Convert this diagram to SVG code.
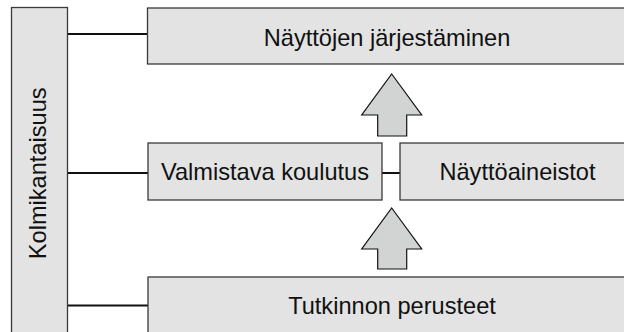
<svg xmlns="http://www.w3.org/2000/svg" width="624" height="332" viewBox="0 0 624 332">
<style>
.box{fill:#e2e3e2;stroke:#3a3a3a;stroke-width:1.3}
.lbl{font-family:"Liberation Sans",Arial,sans-serif;font-size:23.6px;fill:#111;text-anchor:middle}
.conn line{stroke:#111;stroke-width:2}
.arrow{fill:#d2d3d3;stroke:#111;stroke-width:1.2;stroke-linejoin:miter}
</style>
<rect width="624" height="332" fill="#fff"/>
<g class="conn">
<line x1="67" y1="34" x2="147" y2="34"/>
<line x1="67" y1="173" x2="148" y2="173"/>
<line x1="67" y1="305.5" x2="148" y2="305.5"/>
<line x1="382" y1="173" x2="400" y2="173"/>
</g>
<g id="kolmikantaisuus">
<rect class="box" x="11.5" y="7.5" width="56" height="340"/>
<text class="lbl" transform="translate(45.7,173.3) rotate(-90)">Kolmikantaisuus</text>
</g>
<g id="nayttojen-jarjestaminen">
<rect class="box" x="147.5" y="8" width="490" height="56"/>
<text class="lbl" x="387" y="45.5">Näyttöjen järjestäminen</text>
</g>
<g id="valmistava-koulutus">
<rect class="box" x="148" y="143" width="234" height="57"/>
<text class="lbl" x="265" y="180">Valmistava koulutus</text>
</g>
<g id="nayttoaineistot">
<rect class="box" x="400" y="143" width="240" height="57"/>
<text class="lbl" x="517.5" y="180">Näyttöaineistot</text>
</g>
<g id="tutkinnon-perusteet">
<rect class="box" x="148" y="277" width="490" height="70"/>
<text class="lbl" x="392" y="313.5">Tutkinnon perusteet</text>
</g>
<g id="arrows">
<polygon class="arrow" points="391.7,74 421.7,115 406.7,115 406.7,136 377.7,136 377.7,115 361.7,115"/>
<polygon class="arrow" points="391.7,208 421.7,249 406.7,249 406.7,269 377.7,269 377.7,249 361.7,249"/>
</g>
</svg>
